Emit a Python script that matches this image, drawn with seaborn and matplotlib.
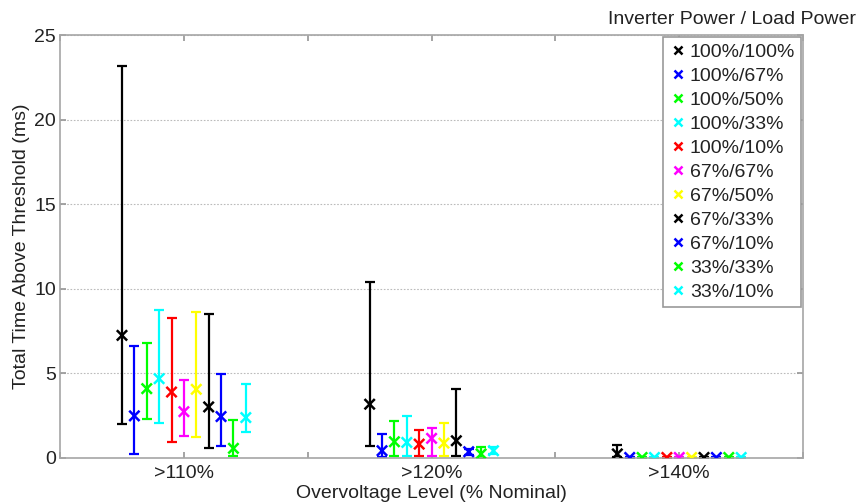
import numpy as np
import pandas as pd
import matplotlib
matplotlib.use("Agg")
import matplotlib.pyplot as plt
import seaborn as sns

# overvoltage groups and inverter/load power series
groups = [">110%", ">120%", ">140%"]
series = ["100%/100%", "100%/67%", "100%/50%", "100%/33%", "100%/10%",
          "67%/67%", "67%/50%", "67%/33%", "67%/10%", "33%/33%", "33%/10%"]
colors = ["#000000", "#0000ff", "#00ff00", "#00ffff", "#ff0000",
          "#ff00ff", "#ffff00", "#000000", "#0000ff", "#00ff00", "#00ffff"]

# mean, min and max time above threshold (ms) per group, one value per series
mean_110 = [7.25, 2.49, 4.10, 4.69, 3.90, 2.74, 4.06, 3.02, 2.45, 0.57, 2.39]
low_110 = [2.00, 0.24, 2.29, 2.04, 0.96, 1.31, 1.25, 0.59, 0.73, 0.10, 1.51]
high_110 = [23.2, 6.60, 6.80, 8.73, 8.27, 4.61, 8.61, 8.53, 4.94, 2.24, 4.35]

mean_120 = [3.18, 0.43, 0.96, 0.92, 0.82, 1.16, 0.88, 1.02, 0.37, 0.24, 0.43]
low_120 = [0.73, 0.08, 0.14, 0.10, 0.10, 0.14, 0.10, 0.14, 0.20, 0.02, 0.24]
high_120 = [10.43, 1.41, 2.20, 2.49, 1.67, 1.75, 2.04, 4.06, 0.53, 0.63, 0.63]

mean_140 = [0.24, 0.03, 0.03, 0.03, 0.03, 0.03, 0.03, 0.03, 0.03, 0.03, 0.03]
low_140 = [0.06, 0.01, 0.01, 0.01, 0.01, 0.01, 0.01, 0.01, 0.01, 0.01, 0.01]
high_140 = [0.76, 0.05, 0.05, 0.05, 0.05, 0.05, 0.05, 0.05, 0.05, 0.05, 0.05]

means = [mean_110, mean_120, mean_140]
lows = [low_110, low_120, low_140]
highs = [high_110, high_120, high_140]

rows = []
for g, grp in enumerate(groups):
    for i, s in enumerate(series):
        rows.append({"group": grp, "series": s,
                     "x": g + 1 + (i - 5) * 0.05,
                     "mean": means[g][i], "low": lows[g][i], "high": highs[g][i],
                     "color": colors[i]})
df = pd.DataFrame(rows)

sns.set_theme(style="white")
plt.rcParams["font.family"] = ["Liberation Sans", "DejaVu Sans"]
text_col = "#222222"
fs = 14

fig = plt.figure(figsize=(8.58, 5.03), dpi=100)
ax = fig.add_axes([0.070, 0.0895, 0.866, 0.8405])

# error bars first, then the x markers on top
for _, r in df.iterrows():
    ax.errorbar(r["x"], r["mean"], yerr=[[r["mean"] - r["low"]], [r["high"] - r["mean"]]],
                fmt="none", ecolor=r["color"], elinewidth=1.6, capsize=3.5, capthick=1.6, zorder=2)

palette = dict(zip(series, colors))
sns.scatterplot(data=df, x="x", y="mean", hue="series", hue_order=series, palette=palette,
                marker="x", s=55, linewidth=1.8, ax=ax, zorder=3)

ax.set_xlim(0.5, 3.5)
ax.set_ylim(0, 25)
ax.set_xticks([0.5, 1, 1.5, 2, 2.5, 3, 3.5])
ax.set_xticklabels(["", groups[0], "", groups[1], "", groups[2], ""])
ax.set_yticks([0, 5, 10, 15, 20, 25])
ax.tick_params(axis="both", labelsize=fs, colors="#999999", labelcolor=text_col,
               direction="in", length=4, top=True, right=True, bottom=True, left=True, pad=3)
ax.tick_params(axis="x", pad=5)
ax.yaxis.grid(True, linestyle=(0, (1.5, 1.5)), color="#bbbbbb", linewidth=0.8)
ax.xaxis.grid(False)
for sp in ax.spines.values():
    sp.set_color("#a6a6a6")
    sp.set_linewidth(1.2)

ax.set_xlabel("Overvoltage Level (% Nominal)", fontsize=fs, color=text_col, labelpad=2)
ax.set_ylabel("Total Time Above Threshold (ms)", fontsize=fs, color=text_col, labelpad=3)

handles, labels = ax.get_legend_handles_labels()
leg = ax.legend(handles, labels, loc="upper right", fontsize=fs, frameon=True, fancybox=False,
                edgecolor="#999999", framealpha=1, borderaxespad=0.1, handletextpad=0.1,
                labelspacing=0.33, borderpad=0.3, handlelength=1.0, markerscale=0.75)
leg.get_frame().set_linewidth(1.2)
for h in leg.legend_handles:
    h.set_linewidth(1.3)
for t in leg.get_texts():
    t.set_color(text_col)

fig.text(0.998, 0.962, "Inverter Power / Load Power", ha="right", va="center",
         fontsize=fs, color=text_col)

fig.savefig("out.png", dpi=100)
